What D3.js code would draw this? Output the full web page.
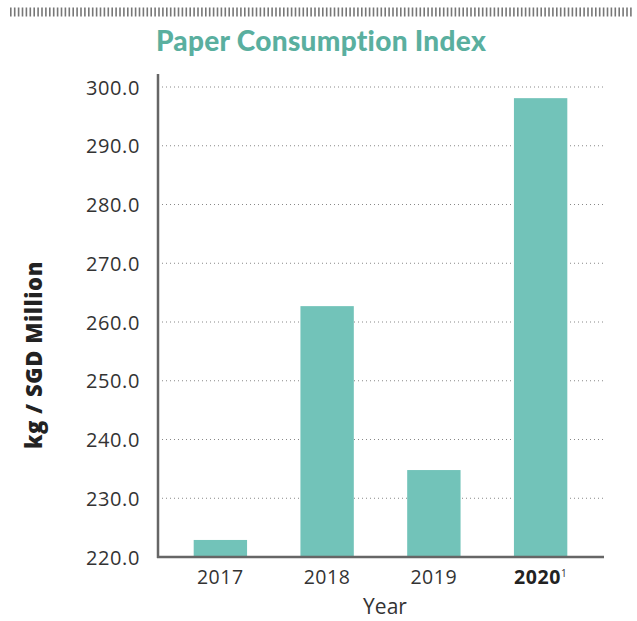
<!DOCTYPE html>
<html><head><meta charset="utf-8">
<script src="https://cdn.jsdelivr.net/npm/d3@7"></script>
<style>body{margin:0;background:#fff;} svg{display:block;}</style>
</head><body>
<script>
const years = ["2017", "2018", "2019", "2020"];
const values = [222.9, 262.7, 234.8, 298.1];
const yTicks = [220, 230, 240, 250, 260, 270, 280, 290, 300];
const title = "Paper Consumption Index";
const yLabel = "kg / SGD Million";
const xLabel = "Year";

const W = 637, H = 621;
const svg = d3.select("body").append("svg").attr("width", W).attr("height", H);

// decorative top hatch
svg.append("line").attr("x1", 10).attr("x2", 634).attr("y1", 12).attr("y2", 12)
  .attr("stroke", "#777").attr("stroke-width", 9).attr("stroke-dasharray", "1.6,2.3");

svg.append("text").attr("x", 321).attr("y", 51).attr("text-anchor", "middle")
  .attr("font-family", "Lato, 'Open Sans', sans-serif").attr("font-weight", 900)
  .attr("font-size", 28).attr("letter-spacing", 0.3).attr("fill", "#5aaf9f").text(title);

const x0 = 158, x1 = 603, yTop = 74, yBot = 557;
const y = d3.scaleLinear().domain([220, 300]).range([557, 87]);
const x = d3.scaleBand().domain(years).range([167, 594]).paddingInner(0.5).paddingOuter(0.25);

// gridlines
svg.append("g").selectAll("line").data(yTicks.filter(t => t > 220)).join("line")
  .attr("x1", x0).attr("x2", x1).attr("y1", d => y(d)).attr("y2", d => y(d))
  .attr("stroke", "#888").attr("stroke-width", 1).attr("stroke-dasharray", "1,3");

// bars
svg.append("g").selectAll("rect").data(years).join("rect")
  .attr("x", d => x(d)).attr("width", x.bandwidth())
  .attr("y", (d, i) => y(values[i])).attr("height", (d, i) => y(220) - y(values[i]))
  .attr("fill", "#72c3b9");

const tickFont = "'Open Sans', sans-serif";
// y axis
const yAxis = svg.append("g").attr("transform", `translate(${x0},0)`)
  .call(d3.axisLeft(y).tickValues(yTicks).tickSize(0).tickPadding(18).tickFormat(d3.format(".1f")));
yAxis.select(".domain").remove();
yAxis.selectAll("text").attr("font-family", tickFont).attr("font-size", 20).attr("letter-spacing", 0.6)
  .attr("fill", "#333").attr("dy", "0.35em");
svg.append("line").attr("x1", x0).attr("x2", x0).attr("y1", yTop).attr("y2", yBot + 1)
  .attr("stroke", "#666").attr("stroke-width", 2.5);

// x axis
const xAxis = svg.append("g").attr("transform", `translate(0,${yBot})`)
  .call(d3.axisBottom(x).tickSize(0).tickPadding(13));
xAxis.select(".domain").remove();
xAxis.selectAll("text").attr("font-family", tickFont).attr("font-size", 19.5).attr("letter-spacing", 0.6).attr("fill", "#333")
  .each(function(d) {
    if (d === "2020") {
      const t = d3.select(this);
      t.text(null).attr("font-weight", 700).attr("fill", "#222");
      t.append("tspan").text(d);
      t.append("tspan").attr("font-size", 10).attr("font-weight", 400).attr("dy", -7).attr("fill", "#333").text("1");
      t.attr("text-anchor", "middle");
    }
  });
svg.append("line").attr("x1", x0 - 1).attr("x2", x1 + 1).attr("y1", yBot).attr("y2", yBot)
  .attr("stroke", "#666").attr("stroke-width", 2.5);

svg.append("text").attr("x", 385).attr("y", 614).attr("text-anchor", "middle")
  .attr("font-family", tickFont).attr("font-size", 21).attr("fill", "#333").text(xLabel);

svg.append("text").attr("transform", "translate(42,355) rotate(-90)").attr("text-anchor", "middle")
  .attr("font-family", tickFont).attr("font-weight", 800).attr("font-size", 22).attr("letter-spacing", 0.6)
  .attr("fill", "#222").text(yLabel);
</script>
</body></html>
